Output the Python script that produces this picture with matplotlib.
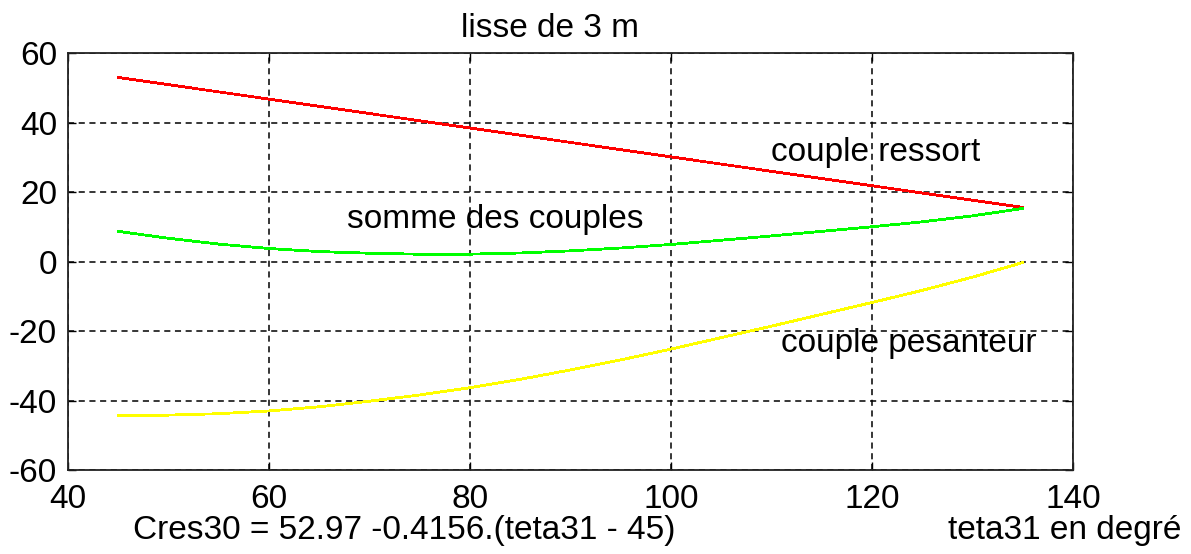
import numpy as np
import matplotlib.pyplot as plt

plt.rcParams['font.family'] = ['Liberation Sans', 'DejaVu Sans']
plt.rcParams['axes.unicode_minus'] = False

# angle teta31 (degres)
teta = [45, 50, 55, 60, 65, 70, 75, 80, 85, 90, 95, 100, 105, 110, 115, 120, 125, 130, 135]
# couple ressort : Cres30 = 52.97 - 0.4156 (teta31 - 45)
c_ressort = [52.97, 50.89, 48.81, 46.74, 44.66, 42.58, 40.50, 38.42, 36.35, 34.27,
             32.19, 30.11, 28.03, 25.96, 23.88, 21.80, 19.72, 17.64, 15.57]
# couple pesanteur
c_pesanteur = [-44.3, -44.2, -43.8, -43.0, -41.8, -40.2, -38.4, -36.3, -33.9, -31.2,
               -28.3, -25.2, -21.9, -18.6, -15.2, -11.8, -8.3, -4.5, -0.3]
c_somme = list(np.array(c_ressort) + np.array(c_pesanteur))

fs = 24

fig = plt.figure(figsize=(11.91, 5.54), dpi=100)
ax = fig.add_axes([0.0571, 0.1516, 0.8438, 0.7527])

ax.plot(teta, c_ressort, color='#ff0000', lw=1.3, antialiased=False)
ax.plot(teta, c_somme, color='#00ff00', lw=1.3, antialiased=False)
ax.plot(teta, c_pesanteur, color='#ffff00', lw=1.3, antialiased=False)

ax.set_xlim(40, 140)
ax.set_ylim(-60, 60)
ax.set_xticks(range(40, 141, 20))
ax.set_yticks(range(-60, 61, 20))
ax.grid(True, color='black', linestyle=(0, (4, 3)), lw=1.1)
ax.tick_params(direction='in', length=6, width=1, labelsize=fs, top=True, right=True)
ax.tick_params(axis='x', pad=10)
ax.tick_params(axis='y', pad=8)
for s in ax.spines.values():
    s.set_linewidth(1.3)
    s.set_color('#222222')

ax.text(110, 31.5, 'couple ressort', fontsize=fs, va='center')
ax.text(67.8, 12, 'somme des couples', fontsize=fs, va='center')
ax.text(110.9, -23.5, 'couple pesanteur', fontsize=fs, va='center')

fig.text(0.462, 0.949, 'lisse de 3 m', fontsize=fs, ha='center', va='center')
fig.text(0.112, 0.043, 'Cres30 = 52.97 -0.4156.(teta31 - 45)', fontsize=fs, va='center')
fig.text(0.796, 0.043, 'teta31 en degré', fontsize=fs, va='center')

fig.savefig('out.png', dpi=100)
